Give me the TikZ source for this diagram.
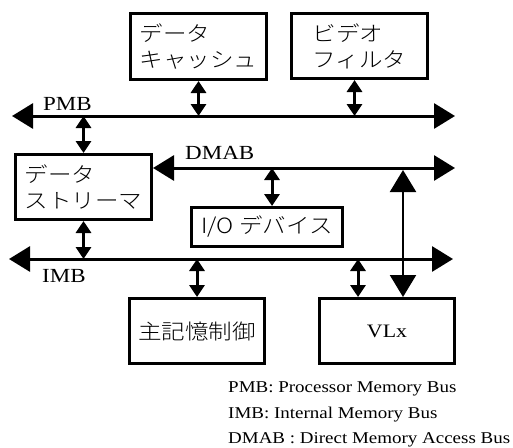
\documentclass[tikz,border=0pt]{standalone}
\usepackage{fontspec}
\setmainfont{Liberation Serif}[FakeStretch=1.15]
\newfontfamily\jafont{Noto Sans CJK JP Light}[FakeStretch=1.12]
\usetikzlibrary{arrows.meta}

\begin{document}
\begin{tikzpicture}[x=1pt,y=-1pt,
  box/.style={draw, line width=3pt, minimum width=136pt, minimum height=65pt,
    inner sep=0pt, align=left, font=\jafont\fontsize{21}{26}\selectfont},
  bus/.style={line width=3pt, {Triangle[length=21pt,width=25pt]}-{Triangle[length=21pt,width=25pt]}},
  link/.style={line width=3pt, {Triangle[length=12pt,width=15pt]}-{Triangle[length=12pt,width=15pt]}},
  buslabel/.style={anchor=base west, inner sep=0pt, font=\fontsize{20}{22}\selectfont},
  legend/.style={anchor=base west, inner sep=0pt, font=\fontsize{16.5}{20}\selectfont}]

\useasboundingbox (0,0) rectangle (513,447);

% the blocks
\node[box, minimum height=66pt] (cache) at (198.5,46.5) {データ\\キャッシュ};
\node[box] (video) at (359.5,46) {ビデオ\\フィルタ};
\node[box] (streamer) at (83.5,187) {データ\\ストリーマ};
\node[box, minimum width=151pt, minimum height=39pt] (io) at (267,227) {I/O デバイス};
\node[box, minimum width=135pt] (mainmem) at (197,331) {主記憶制御};
\node[box, minimum width=135pt, font=\fontsize{19}{22}\selectfont] (vlx) at (387,331) {VLx};

% the buses
\coordinate (pmbW) at (12,116);
\coordinate (pmbE) at (455,116);
\coordinate (dmabE) at (455,168);
\coordinate (imbW) at (9,259);
\coordinate (imbE) at (453,259);
\coordinate (vtop) at (403,170);

\draw[bus] (pmbW) -- (pmbE);
\draw[bus] (dmabE -| streamer.east) -- (dmabE);
\draw[bus] (imbW) -- (imbE);

\node[buslabel] (pmblabel) at (43,110) {PMB};
\node[buslabel] (dmablabel) at (185,159) {DMAB};
\node[buslabel] (imblabel) at (42,282) {IMB};

% links between blocks and buses
\draw[link] (cache.south) -- (cache.south |- pmbW);
\draw[link] ([xshift=-5pt]video.south) -- ([xshift=-5pt]video.south |- pmbW);
\draw[link] (streamer.north) -- (streamer.north |- pmbW);
\draw[link] (streamer.south) -- (streamer.south |- imbW);
\draw[link] ([xshift=5pt]io.north) -- ([xshift=5pt]io.north |- dmabE);
\draw[link] (mainmem.north) -- (mainmem.north |- imbW);
\draw[link] ([xshift=-29pt]vlx.north) -- ([xshift=-29pt]vlx.north |- imbW);

% VLx straight to the DMAB
\draw[line width=2.2pt, {Triangle[length=22pt,width=26pt]}-{Triangle[length=22pt,width=26pt]}]
  ([xshift=16pt]vlx.north) -- (vtop);

% legend
\node[legend] (leg1) at (228,392) {PMB: Processor Memory Bus};
\node[legend] (leg2) at (228,418) {IMB: Internal Memory Bus};
\node[legend] (leg3) at (228,443) {DMAB : Direct Memory Access Bus};

\end{tikzpicture}
\end{document}
